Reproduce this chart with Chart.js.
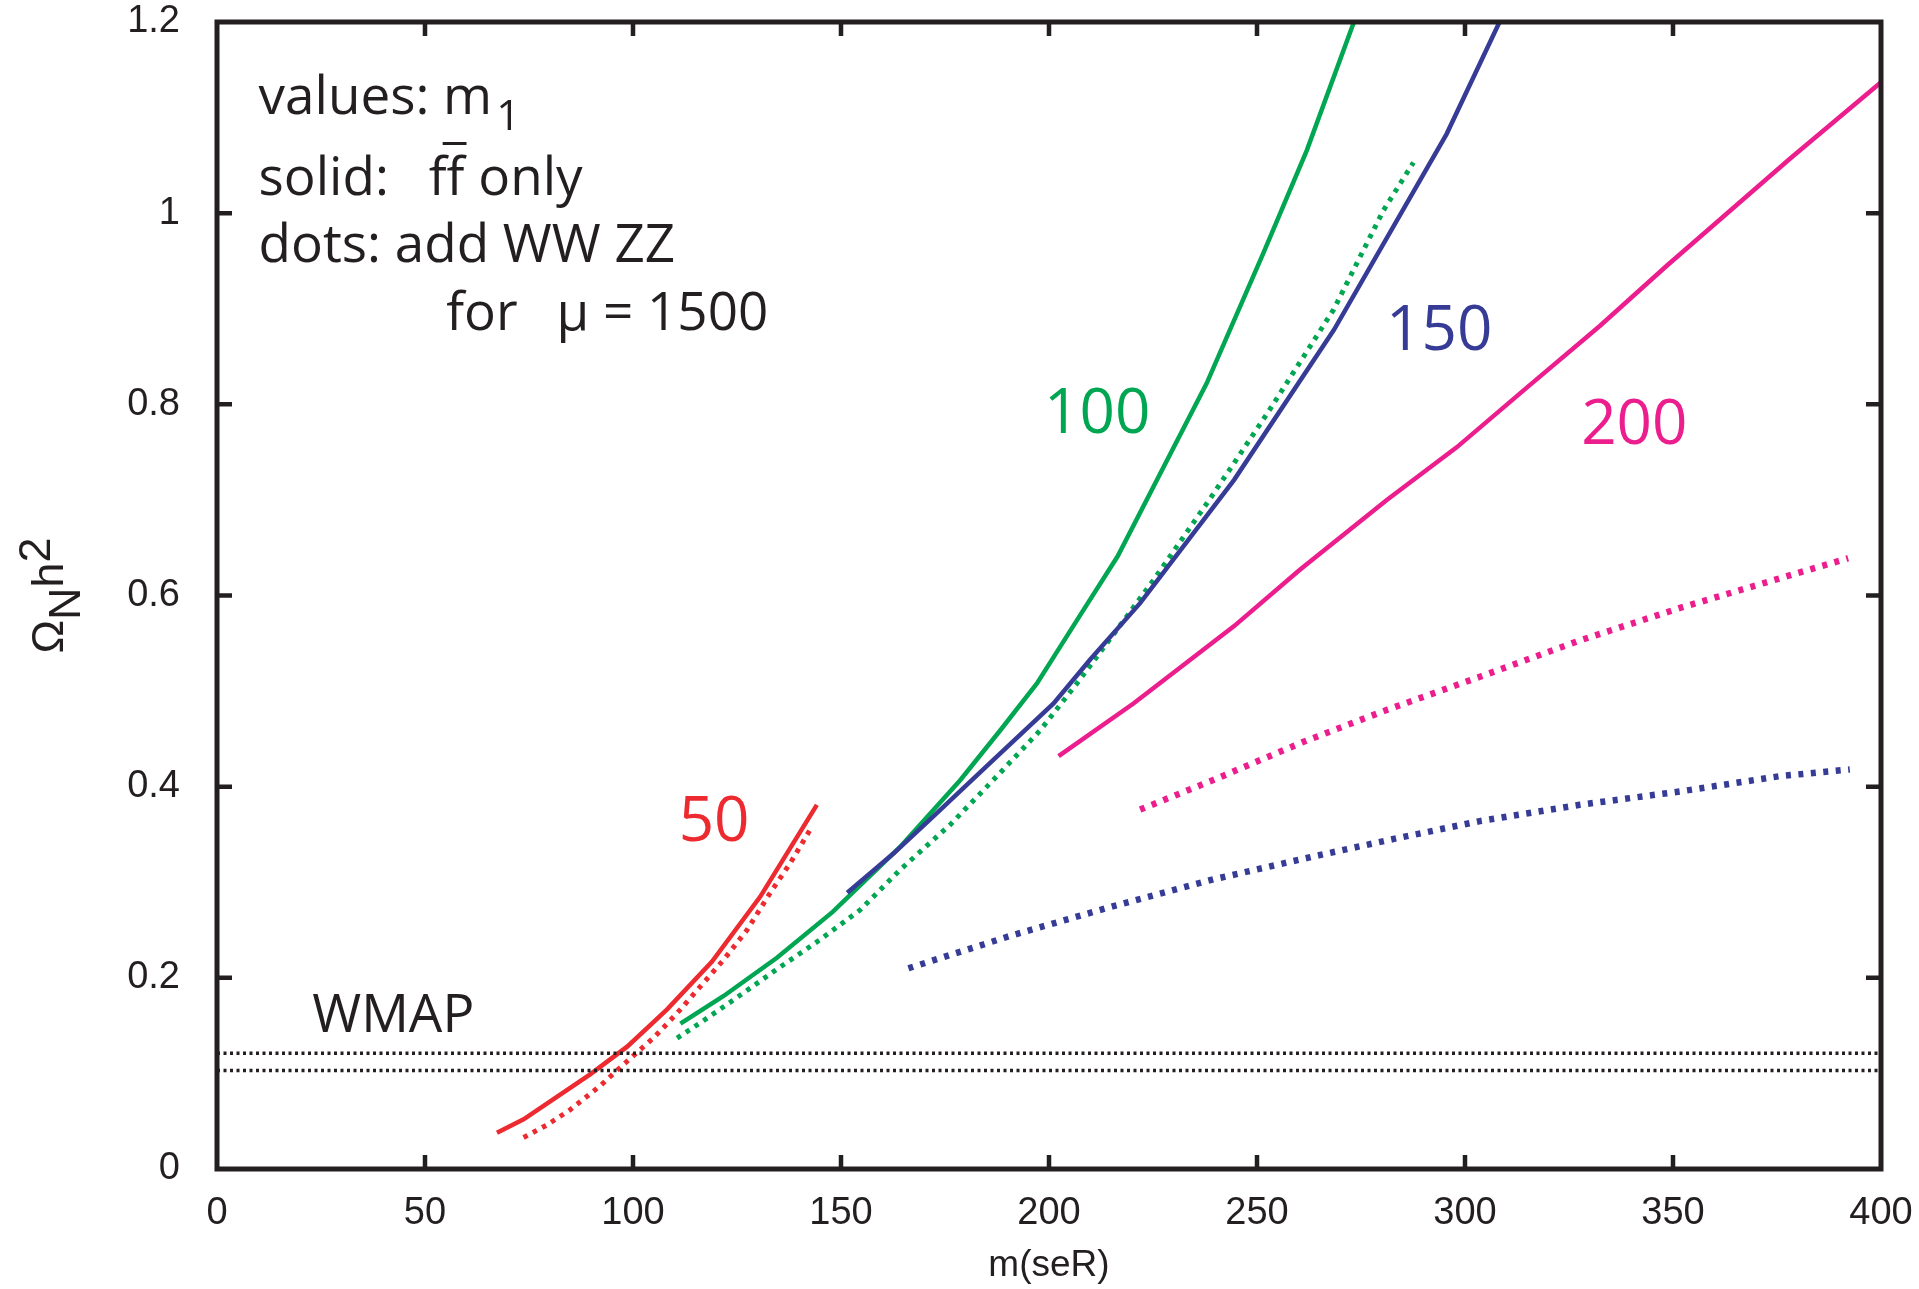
<!DOCTYPE html>
<html>
<head>
<meta charset="utf-8">
<script src="https://cdn.jsdelivr.net/npm/chart.js@4.4.0/dist/chart.umd.min.js"></script>
<style>
  html, body { margin: 0; padding: 0; background: #fff; }
  #wrap { width: 1919px; height: 1289px; }
</style>
</head>
<body>
<div id="wrap"><canvas id="omegaChart" width="1919" height="1289"></canvas></div>
<script>
// ------------------- DATOS -------------------

// m1 = 50 (rojo)
const mSolid50 = [67.3, 73.7, 80.9, 89.7, 98.6, 108.2, 119.0, 130.6, 144.2];
const omegaSolid50 = [0.038, 0.052, 0.073, 0.099, 0.128, 0.167, 0.217, 0.285, 0.381];
const mDots50 = [73.7, 79.3, 84.9, 92.1, 99.4, 104.9, 110.6, 116.2, 121.8, 127.4, 133.0, 137.8, 143.0];
const omegaDots50 = [0.033, 0.046, 0.062, 0.087, 0.116, 0.137, 0.163, 0.191, 0.219, 0.250, 0.289, 0.320, 0.358];

// m1 = 100 (verde)
const mSolid100 = [111.4, 121.8, 134.6, 148.0, 164.2, 178.7, 188.3, 197.1, 206.7, 216.5, 237.9, 251.5, 262.0, 273.3];
const omegaSolid100 = [0.152, 0.181, 0.221, 0.269, 0.337, 0.407, 0.459, 0.508, 0.574, 0.641, 0.822, 0.958, 1.066, 1.200];
const mDots100 = [110.6, 116.2, 124.2, 134.6, 145.0, 154.6, 164.2, 176.2, 187.5, 197.9, 206.7, 216.3, 225.1, 239.0, 252.4, 268.4, 280.4, 287.6];
const omegaDots100 = [0.137, 0.153, 0.177, 0.209, 0.240, 0.271, 0.313, 0.360, 0.411, 0.459, 0.508, 0.564, 0.616, 0.703, 0.790, 0.899, 1.003, 1.053];

// m1 = 150 (azul)
const mSolid150 = [151.5, 162.6, 172.2, 184.9, 201.1, 209.9, 221.9, 244.5, 268.5, 295.6, 308.3];
const omegaSolid150 = [0.289, 0.330, 0.369, 0.421, 0.487, 0.533, 0.592, 0.721, 0.878, 1.083, 1.200];
const mDots150 = [166.2, 191.5, 215.5, 239.5, 263.6, 283.6, 303.6, 327.6, 351.7, 375.7, 392.5];
const omegaDots150 = [0.210, 0.245, 0.275, 0.303, 0.327, 0.346, 0.364, 0.381, 0.395, 0.411, 0.418];

// m1 = 200 (rosa)
const mSolid200 = [202.3, 220.3, 244.5, 260.3, 281.2, 298.0, 315.0, 332.4, 348.5, 378.1, 400.0];
const omegaSolid200 = [0.432, 0.487, 0.568, 0.627, 0.700, 0.755, 0.818, 0.882, 0.945, 1.057, 1.137];
const mDots200 = [221.9, 239.5, 261.2, 281.0, 303.6, 327.6, 351.7, 375.7, 392.1];
const omegaDots200 = [0.376, 0.407, 0.447, 0.480, 0.515, 0.553, 0.587, 0.618, 0.639];

// banda WMAP
const wmapRange = [0, 400];
const wmapBand = [0.121, 0.103];

// ejes
const xTicks = [0, 50, 100, 150, 200, 250, 300, 350, 400];
const yTicks = [0, 0.2, 0.4, 0.6, 0.8, 1.0, 1.2];

// etiquetas de las curvas
const curveLabels = ['50', '100', '150', '200'];
const labelM = [119.5, 211.6, 293.8, 340.7];
const labelOmega = [0.343, 0.770, 0.857, 0.758];

// ------------------- ESTILO -------------------

const ink = '#231F20';
const red = '#ED2A2F';
const green = '#00A651';
const blue = '#363C96';
const pink = '#EC1E8E';
const labelColors = [red, green, blue, pink];
const axisFont = '"Liberation Sans", Arial, sans-serif';

const toPoints = (xs, ys) => xs.map((m, i) => ({ x: m, y: ys[i] }));

function solid(xs, ys, color) {
    return { data: toPoints(xs, ys), borderColor: color, borderWidth: 4.5, pointRadius: 0, tension: 0, borderCapStyle: 'butt' };
}
function dotted(xs, ys, color, width, dash) {
    return { data: toPoints(xs, ys), borderColor: color, borderWidth: width, borderDash: dash, pointRadius: 0, tension: 0, borderCapStyle: 'butt' };
}

// Marco, marcas, textos y titulo del eje Y
const framePlugin = {
    id: 'frameAndText',
    afterDraw(chart) {
        const { ctx, chartArea: a, scales: { x, y } } = chart;
        ctx.save();

        // marco
        ctx.strokeStyle = ink;
        ctx.lineWidth = 5;
        ctx.strokeRect(a.left, a.top, a.right - a.left, a.bottom - a.top);

        // marcas hacia adentro
        ctx.lineWidth = 4.5;
        ctx.beginPath();
        xTicks.slice(1, -1).forEach(v => {
            const px = x.getPixelForValue(v);
            ctx.moveTo(px, a.bottom); ctx.lineTo(px, a.bottom - 14);
            ctx.moveTo(px, a.top); ctx.lineTo(px, a.top + 14);
        });
        yTicks.slice(1, -1).forEach(v => {
            const py = y.getPixelForValue(v);
            ctx.moveTo(a.left, py); ctx.lineTo(a.left + 15, py);
            ctx.moveTo(a.right, py); ctx.lineTo(a.right - 15, py);
        });
        ctx.stroke();

        // etiquetas de curvas
        ctx.textAlign = 'center';
        ctx.textBaseline = 'alphabetic';
        ctx.font = '62px "Open Sans"';
        curveLabels.forEach((t, i) => {
            ctx.fillStyle = labelColors[i];
            ctx.fillText(t, x.getPixelForValue(labelM[i]), y.getPixelForValue(labelOmega[i]));
        });

        // leyenda de texto
        ctx.fillStyle = ink;
        ctx.textAlign = 'left';
        ctx.font = '53px "Open Sans"';
        const lx = x.getPixelForValue(10);
        const b1 = y.getPixelForValue(1.104);
        const b2 = y.getPixelForValue(1.019);
        const b3 = y.getPixelForValue(0.949);
        const b4 = y.getPixelForValue(0.878);

        ctx.fillText('values: m', lx, b1);
        const wm = ctx.measureText('values: m').width;
        ctx.font = '42px "Open Sans"';
        ctx.fillText('1', lx + wm + 4, b1 + 16);

        ctx.font = '53px "Open Sans"';
        ctx.fillText('solid:', lx, b2);
        const ffx = lx + ctx.measureText('solid:').width + 40;
        ctx.fillText('ff only', ffx, b2);
        const wf = ctx.measureText('f').width;
        const wff = ctx.measureText('ff').width;
        ctx.fillRect(ffx + wf - 4, b2 - 53, wff - wf + 6, 3);

        ctx.fillText('dots: add WW ZZ', lx, b3);
        ctx.fillText('for', x.getPixelForValue(55.1), b4);
        ctx.fillText('\u03BC = 1500', x.getPixelForValue(81.6), b4);

        ctx.fillText('WMAP', x.getPixelForValue(22.9), y.getPixelForValue(0.143));

        // titulo eje Y: Omega_N h^2
        ctx.translate(63, (a.top + a.bottom) / 2);
        ctx.rotate(-Math.PI / 2);
        ctx.font = '45px ' + axisFont;
        const parts = [['\u03A9', 0], ['N', 17], ['h', 0], ['2', -13]];
        const total = parts.reduce((s, p) => s + ctx.measureText(p[0]).width, 0);
        let sx = -total / 2;
        parts.forEach(([t, dy]) => {
            ctx.fillText(t, sx, dy);
            sx += ctx.measureText(t).width;
        });

        ctx.restore();
    }
};

// ------------------- GRAFICO -------------------

const ctx = document.getElementById('omegaChart').getContext('2d');
new Chart(ctx, {
    type: 'line',
    data: {
        datasets: [
            dotted(wmapRange, [wmapBand[0], wmapBand[0]], ink, 3.5, [3, 3.5]),
            dotted(wmapRange, [wmapBand[1], wmapBand[1]], ink, 3.5, [3, 3.5]),
            solid(mSolid200, omegaSolid200, pink),
            dotted(mDots200, omegaDots200, pink, 6.5, [5, 7.5]),
            dotted(mDots150, omegaDots150, blue, 6.5, [5, 7.5]),
            solid(mSolid150, omegaSolid150, blue),
            dotted(mDots100, omegaDots100, green, 5, [4.5, 6]),
            solid(mSolid100, omegaSolid100, green),
            dotted(mDots50, omegaDots50, red, 5, [4.5, 6]),
            solid(mSolid50, omegaSolid50, red)
        ]
    },
    options: {
        responsive: false,
        animation: false,
        devicePixelRatio: 1,
        layout: { padding: { left: 0, right: 38, top: 22, bottom: 0 } },
        plugins: { legend: { display: false }, tooltip: { enabled: false } },
        scales: {
            x: {
                type: 'linear',
                min: 0, max: 400,
                afterBuildTicks: s => { s.ticks = xTicks.map(v => ({ value: v })); },
                afterFit: s => { s.height = 120; s.paddingLeft = 0; s.paddingRight = 0; },
                grid: { display: false },
                border: { display: false },
                ticks: {
                    autoSkip: false, maxRotation: 0, padding: 14,
                    color: ink,
                    font: { family: axisFont, size: 38 }
                },
                title: {
                    display: true, text: 'm(seR)', color: ink, padding: { top: 0, bottom: 1 },
                    font: { family: axisFont, size: 37 }
                }
            },
            y: {
                type: 'linear',
                min: 0, max: 1.2,
                afterBuildTicks: s => { s.ticks = yTicks.map(v => ({ value: v })); },
                afterFit: s => { s.width = 217; s.paddingTop = 0; s.paddingBottom = 0; },
                grid: { display: false },
                border: { display: false },
                ticks: {
                    autoSkip: false, padding: 29,
                    color: ink,
                    font: { family: axisFont, size: 38 },
                    callback: v => String(+Number(v).toFixed(1))
                }
            }
        }
    },
    plugins: [framePlugin]
});
</script>
</body>
</html>
